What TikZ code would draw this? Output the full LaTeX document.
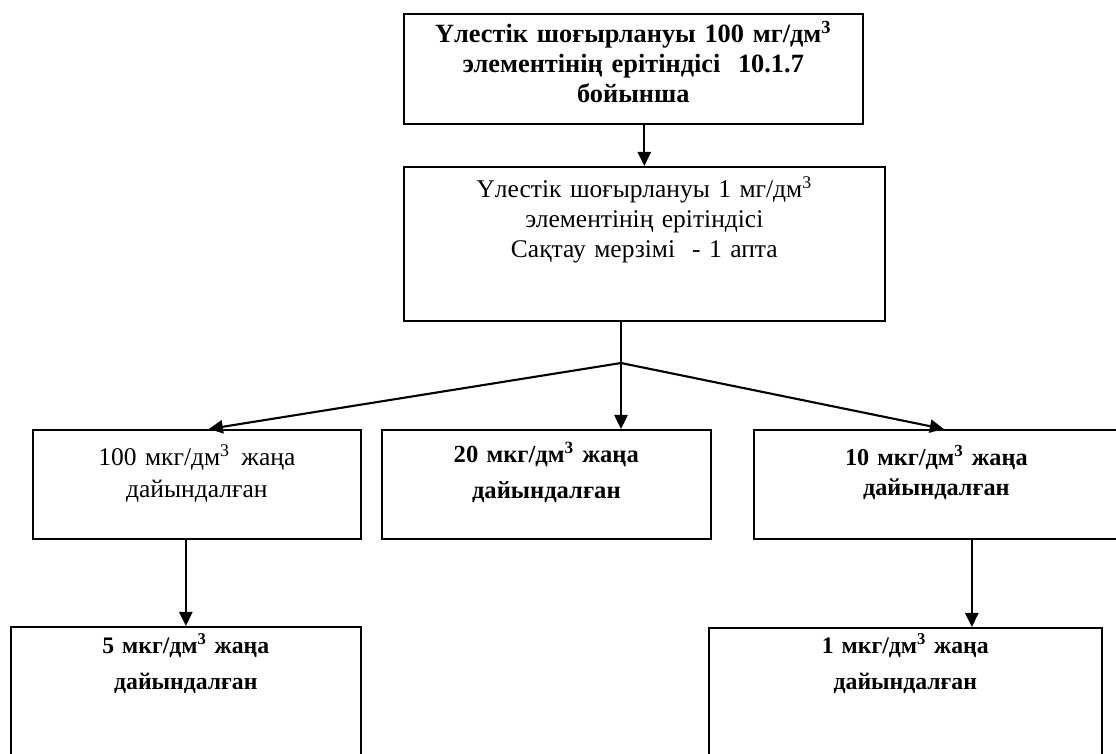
\documentclass[tikz,border=0pt]{standalone}
\usepackage{fontspec}
\setmainfont{Liberation Serif}
\usetikzlibrary{arrows.meta}

\tikzset{
  box/.style={draw, line width=1pt, anchor=north west, inner sep=0pt, align=center},
  conn/.style={line width=1.2pt, ->}
}

\begin{document}
\begin{tikzpicture}[x=0.02cm, y=-0.02cm, >={Triangle[length=8pt,width=7.5pt]}]
            \useasboundingbox (0,0) rectangle (1116,754);
            % top two boxes
            \node[box, text width=9.18cm, text height=0.58cm, text depth=1.62cm,
                  font=\bfseries\fontsize{15}{17}\selectfont] (b1) at (403,13)
                  {Үлестік шоғырлануы 100 мг/дм\textsuperscript{3}\\ элементінің ерітіндісі\ \ 10.1.7\\ бойынша};
            \node[box, text width=9.62cm, text height=0.62cm, text depth=2.46cm,
                  font=\fontsize{14.5}{17}\selectfont] (b2) at (403,166)
                  {Үлестік шоғырлануы 1 мг/дм\textsuperscript{3}\\ элементінің ерітіндісі\\ Сақтау мерзімі\ \ - 1 апта};
            % middle row
            \node[box, text width=6.56cm, text height=0.72cm, text depth=1.46cm,
                  font=\fontsize{14.5}{18}\selectfont] (l1) at (32,429)
                  {100 мкг/дм\textsuperscript{3}\hspace{0.45em}жаңа\\ дайындалған};
            \node[box, text width=6.58cm, text height=0.66cm, text depth=1.52cm,
                  font=\bfseries\fontsize{14}{20}\selectfont] (m) at (381,429)
                  {20 мкг/дм\textsuperscript{3} жаңа\\ дайындалған};
            \node[box, text width=7.3cm, text height=0.72cm, text depth=1.46cm,
                  font=\bfseries\fontsize{13.8}{17}\selectfont] (r1) at (753,429)
                  {10 мкг/дм\textsuperscript{3} жаңа\\ дайындалған};
            % bottom row
            \node[box, text width=7cm, text height=0.54cm, text depth=2.54cm,
                  font=\bfseries\fontsize{13.5}{20}\selectfont] (l2) at (10,626)
                  {5 мкг/дм\textsuperscript{3} жаңа\\ дайындалған};
            \node[box, text width=7.86cm, text height=0.52cm, text depth=2.54cm,
                  font=\bfseries\fontsize{13.5}{20}\selectfont] (r2) at (708,627)
                  {1 мкг/дм\textsuperscript{3} жаңа\\ дайындалған};
            % arrows
            \coordinate (j) at (621,363);
            \coordinate (rr) at ([xshift=1.33cm]r2.north);
            \draw[conn] (b1.south -| b2.north) -- (b2.north);
            \draw[line width=1.2pt] (j |- b2.south) -- (j);
            \draw[conn] (j) -- ([xshift=0.24cm]l1.north);
            \draw[conn] (j) -- (j |- m.north);
            \draw[conn] (j) -- ([xshift=0.15cm]r1.north);
            \draw[conn] (l1.south -| l2.north) -- (l2.north);
            \draw[conn] (rr |- r1.south) -- (rr);
\end{tikzpicture}
\end{document}
